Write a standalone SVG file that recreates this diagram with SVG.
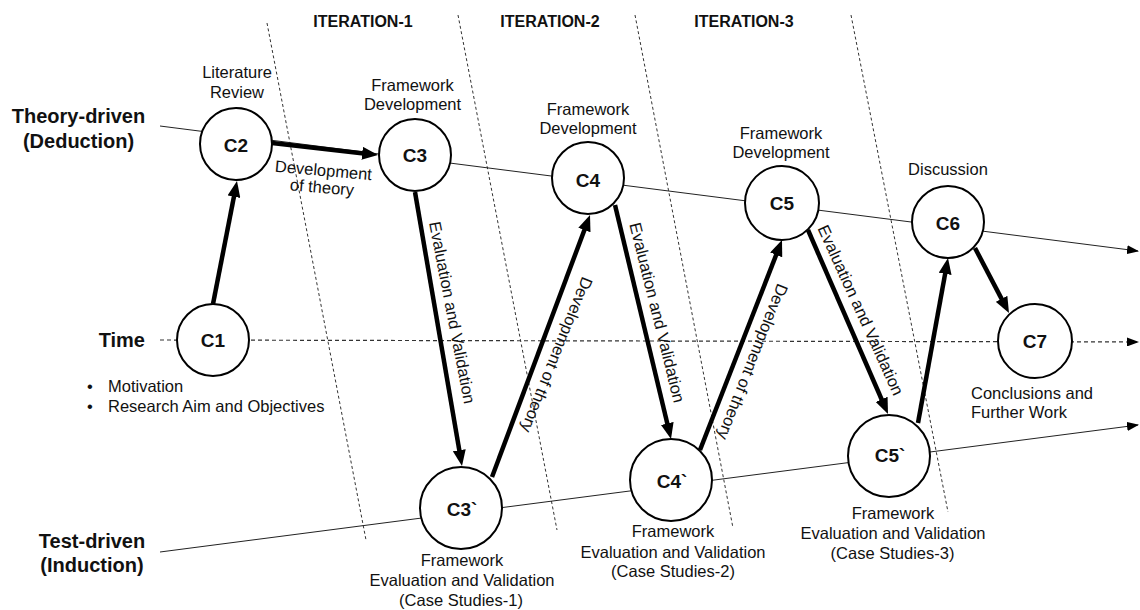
<svg xmlns="http://www.w3.org/2000/svg" width="1140" height="610" viewBox="0 0 1140 610">
  <style>
    text { font-family: "Liberation Sans", Arial, sans-serif; fill: #111; }
    .axis { font-size: 20px; font-weight: bold; }
    .iter { font-size: 16px; font-weight: bold; }
    .node circle { fill: #fff; stroke: #000; stroke-width: 2; }
    .node .id { font-size: 19px; font-weight: bold; text-anchor: middle; }
    .lbl { font-size: 16.5px; }
    .mid { text-anchor: middle; }
    .sep { stroke: #333; stroke-width: 1; stroke-dasharray: 3 2.5; fill: none; }
    .track { stroke: #222; stroke-width: 1; fill: none; }
    .time { stroke: #333; stroke-width: 1.2; stroke-dasharray: 4 3; fill: none; }
    .flow { stroke: #000; stroke-width: 4.5; fill: none; marker-end: url(#bigHead); }
  </style>
  <defs>
    <marker id="bigHead" viewBox="0 0 16 13" refX="4" refY="6.5" markerWidth="16" markerHeight="13" markerUnits="userSpaceOnUse" orient="auto">
      <path d="M0,0 L16,6.5 L0,13 z" fill="#000"/>
    </marker>
    <marker id="thinHead" viewBox="0 0 12 9" refX="11" refY="4.5" markerWidth="12" markerHeight="9" markerUnits="userSpaceOnUse" orient="auto">
      <path d="M0,0 L12,4.5 L0,9 z" fill="#000"/>
    </marker>
  </defs>

  <!-- iteration separators -->
  <g id="separators">
    <line class="sep" x1="267" y1="23" x2="366" y2="540"/>
    <line class="sep" x1="458" y1="15" x2="557" y2="530"/>
    <line class="sep" x1="635" y1="15" x2="733" y2="528"/>
    <line class="sep" x1="851" y1="15" x2="948" y2="512"/>
  </g>

  <!-- iteration headings -->
  <g id="headings" class="iter">
    <text x="363" y="27" text-anchor="middle">ITERATION-1</text>
    <text x="550" y="27" text-anchor="middle">ITERATION-2</text>
    <text x="744" y="27" text-anchor="middle">ITERATION-3</text>
  </g>

  <!-- axis labels -->
  <g id="axis-labels" class="axis">
    <text x="78.5" y="123" text-anchor="middle">Theory-driven</text>
    <text x="78.5" y="148" text-anchor="middle">(Deduction)</text>
    <text x="145" y="347" text-anchor="end">Time</text>
    <text x="92" y="548" text-anchor="middle">Test-driven</text>
    <text x="92" y="572" text-anchor="middle">(Induction)</text>
  </g>

  <!-- connectors: tracks and flow arrows -->
  <g id="connectors">
    <line class="track" x1="160" y1="126" x2="1138" y2="251" marker-end="url(#thinHead)"/>
    <line class="time" x1="160" y1="340" x2="1138" y2="342" marker-end="url(#thinHead)"/>
    <line class="track" x1="160" y1="552" x2="1138" y2="425" marker-end="url(#thinHead)"/>

    <line class="flow" x1="213" y1="304" x2="234.7" y2="192.8"/>
    <line class="flow" x1="272" y1="143" x2="366.1" y2="153.65"/>
    <line class="flow" x1="415" y1="192" x2="459.97" y2="454.17"/>
    <line class="flow" x1="492" y1="477" x2="585.8" y2="226.24"/>
    <line class="flow" x1="615" y1="205" x2="668.21" y2="427.33"/>
    <line class="flow" x1="700" y1="450" x2="777.63" y2="251.18"/>
    <line class="flow" x1="808" y1="230" x2="883.21" y2="402.99"/>
    <line class="flow" x1="918" y1="423" x2="945.85" y2="269.81"/>
    <line class="flow" x1="975" y1="248" x2="1003.44" y2="302.37"/>
  </g>

  <!-- arrow labels -->
  <g id="arrow-labels" class="lbl">
    <g transform="translate(323,176) rotate(5)">
      <text x="0" y="0" text-anchor="middle">Development</text>
      <text x="0" y="17" text-anchor="middle">of theory</text>
    </g>
    <text transform="translate(452.5,312.5) rotate(79)" x="0" y="6" text-anchor="middle">Evaluation and Validation</text>
    <text transform="translate(557,355) rotate(112)" x="0" y="6" text-anchor="middle">Development of theory</text>
    <text transform="translate(657.5,312.5) rotate(76)" x="0" y="6" text-anchor="middle">Evaluation and Validation</text>
    <text transform="translate(753,362) rotate(111.5)" x="0" y="6" text-anchor="middle">Development of theory</text>
    <text transform="translate(861,310) rotate(65.5)" x="0" y="6" text-anchor="middle">Evaluation and Validation</text>
  </g>

  <!-- chapter nodes -->
  <g id="C1" class="node">
    <circle cx="213" cy="340" r="36"/>
    <text class="id" x="213" y="346.5">C1</text>
    <text class="lbl" x="87" y="392">•</text>
    <text class="lbl" x="108" y="392">Motivation</text>
    <text class="lbl" x="87" y="412">•</text>
    <text class="lbl" x="108" y="412">Research Aim and Objectives</text>
  </g>
  <g id="C2" class="node">
    <circle cx="236" cy="144" r="36"/>
    <text class="id" x="236" y="152">C2</text>
    <text class="lbl mid" x="237" y="78">Literature</text>
    <text class="lbl mid" x="237" y="97.5">Review</text>
  </g>
  <g id="C3" class="node">
    <circle cx="415" cy="155" r="36"/>
    <text class="id" x="415" y="162">C3</text>
    <text class="lbl mid" x="412.5" y="91">Framework</text>
    <text class="lbl mid" x="412.5" y="110">Development</text>
  </g>
  <g id="C4" class="node">
    <circle cx="588" cy="178" r="36"/>
    <text class="id" x="588" y="186.5">C4</text>
    <text class="lbl mid" x="588" y="115">Framework</text>
    <text class="lbl mid" x="588" y="134">Development</text>
  </g>
  <g id="C5" class="node">
    <circle cx="782" cy="203" r="37"/>
    <text class="id" x="782" y="210">C5</text>
    <text class="lbl mid" x="781" y="139">Framework</text>
    <text class="lbl mid" x="781" y="158">Development</text>
  </g>
  <g id="C6" class="node">
    <circle cx="948" cy="222" r="36"/>
    <text class="id" x="948" y="230">C6</text>
    <text class="lbl mid" x="948" y="175">Discussion</text>
  </g>
  <g id="C7" class="node">
    <circle cx="1035" cy="341" r="37"/>
    <text class="id" x="1035" y="348">C7</text>
    <text class="lbl" x="971" y="399">Conclusions and</text>
    <text class="lbl" x="971" y="418">Further Work</text>
  </g>
  <g id="C3p" class="node">
    <circle cx="461" cy="508" r="41"/>
    <text class="id" x="462" y="516">C3`</text>
    <text class="lbl mid" x="462" y="566">Framework</text>
    <text class="lbl mid" x="462" y="586">Evaluation and Validation</text>
    <text class="lbl mid" x="461" y="605.5">(Case Studies-1)</text>
  </g>
  <g id="C4p" class="node">
    <circle cx="671" cy="480" r="41"/>
    <text class="id" x="672" y="488">C4`</text>
    <text class="lbl mid" x="673" y="537">Framework</text>
    <text class="lbl mid" x="673" y="557.5">Evaluation and Validation</text>
    <text class="lbl mid" x="673" y="577">(Case Studies-2)</text>
  </g>
  <g id="C5p" class="node">
    <circle cx="889" cy="456" r="41"/>
    <text class="id" x="890" y="461.5">C5`</text>
    <text class="lbl mid" x="893" y="518.5">Framework</text>
    <text class="lbl mid" x="893" y="539">Evaluation and Validation</text>
    <text class="lbl mid" x="892.5" y="558.5">(Case Studies-3)</text>
  </g>
</svg>
